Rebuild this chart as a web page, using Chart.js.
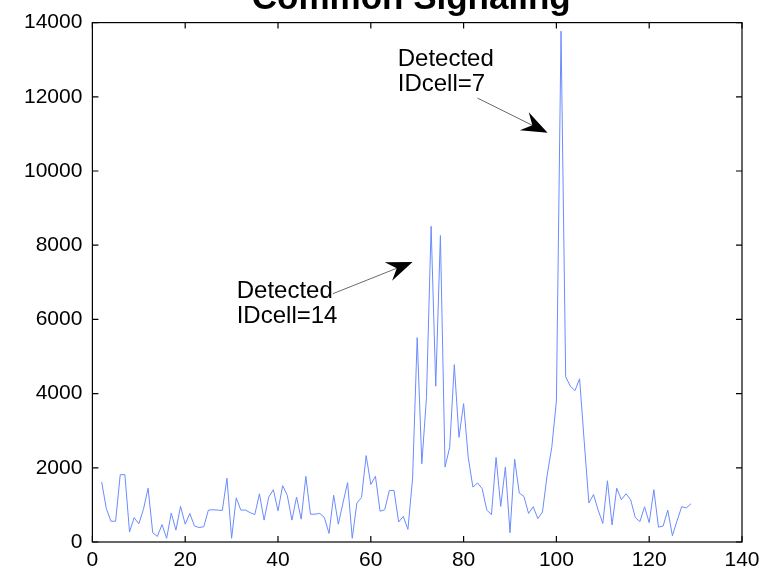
<!DOCTYPE html>
<html>
<head>
<meta charset="utf-8">
<script src="https://cdn.jsdelivr.net/npm/chart.js@4"></script>
<style>
  html, body { margin: 0; padding: 0; background: #fff; }
  canvas { display: block; }
</style>
</head>
<body>
<canvas id="chart" width="768" height="571"></canvas>
<script>
// ─── data ───────────────────────────────────────────────
const cellIndex = [
  2, 3, 4, 5, 6, 7, 8, 9, 10, 11, 12, 13, 14, 15, 16, 17, 18, 19, 20, 21,
  22, 23, 24, 25, 26, 27, 28, 29, 30, 31, 32, 33, 34, 35, 36, 37, 38, 39, 40, 41,
  42, 43, 44, 45, 46, 47, 48, 49, 50, 51, 52, 53, 54, 55, 56, 57, 58, 59, 60, 61,
  62, 63, 64, 65, 66, 67, 68, 69, 70, 71, 72, 73, 74, 75, 76, 77, 78, 79, 80, 81,
  82, 83, 84, 85, 86, 87, 88, 89, 90, 91, 92, 93, 94, 95, 96, 97, 98, 99, 100, 101,
  102, 103, 104, 105, 106, 107, 108, 109, 110, 111, 112, 113, 114, 115, 116, 117, 118, 119, 120, 121,
  122, 123, 124, 125, 126, 127, 128, 129
]
const signalPower = [
  1615, 900, 560, 560, 1815, 1815, 270, 655, 490, 880, 1450, 250, 150, 470, 100, 780, 320, 960, 480, 770,
  430, 390, 410, 860, 870, 860, 850, 1720, 100, 1190, 860, 860, 790, 740, 1300, 590, 1210, 1410, 840, 1520,
  1260, 590, 1210, 615, 1770, 750, 750, 770, 660, 230, 1260, 480, 1050, 1600, 100, 1050, 1200, 2330, 1550, 1770,
  830, 870, 1390, 1390, 540, 690, 340, 1700, 5510, 2110, 3900, 8510, 4200, 8260, 2020, 2550, 4780, 2820, 3730, 2280,
  1480, 1590, 1440, 860, 740, 2280, 960, 2020, 250, 2230, 1320, 1230, 770, 950, 630, 810, 1800, 2550, 3800, 13770,
  4450, 4200, 4080, 4400, 2700, 1050, 1280, 860, 500, 1650, 460, 1450, 1140, 1300, 1140, 660, 550, 950, 520, 1410,
  400, 430, 860, 170, 570, 950, 920, 1030
]
const xTicks = [0, 20, 40, 60, 80, 100, 120, 140]
const yTicks = [0, 2000, 4000, 6000, 8000, 10000, 12000, 14000]

const chartTitle = 'Common Signaling'
// annotations: text anchor + arrow (tail -> tip), in data units
const notes = [
  { lines: ['Detected', 'IDcell=7'],  textAt: [65.8, 12820], tail: [83.0, 11965], tip: [98.1, 11028] },
  { lines: ['Detected', 'IDcell=14'], textAt: [31.1, 6585],  tail: [51.8, 6692],  tip: [69.0, 7548] },
]

const FONT = "'Liberation Sans', Arial, Helvetica, sans-serif"

// ─── frame with inward ticks on all four sides ─────────
const framePlugin = {
  id: 'frame',
  afterDatasetsDraw(chart) {
    const { ctx, chartArea: a, scales } = chart
    const len = 6
    ctx.save()
    ctx.strokeStyle = '#000'
    ctx.lineWidth = 1.2
    ctx.strokeRect(a.left, a.top, a.right - a.left, a.bottom - a.top)
    ctx.beginPath()
    xTicks.forEach(v => {
      const px = scales.x.getPixelForValue(v)
      ctx.moveTo(px, a.bottom); ctx.lineTo(px, a.bottom - len)
      ctx.moveTo(px, a.top);    ctx.lineTo(px, a.top + len)
    })
    yTicks.forEach(v => {
      const py = scales.y.getPixelForValue(v)
      ctx.moveTo(a.left, py);  ctx.lineTo(a.left + len, py)
      ctx.moveTo(a.right, py); ctx.lineTo(a.right - len, py)
    })
    ctx.stroke()
    ctx.restore()
  }
}

// ─── title (clipped at top as in the original) + arrows ─
const notesPlugin = {
  id: 'notes',
  afterDraw(chart) {
    const { ctx, chartArea: a, scales } = chart
    const X = v => scales.x.getPixelForValue(v)
    const Y = v => scales.y.getPixelForValue(v)
    ctx.save()

    ctx.fillStyle = '#000'
    ctx.font = `bold 35px ${FONT}`
    ctx.textAlign = 'center'
    ctx.textBaseline = 'alphabetic'
    ctx.fillText(chartTitle, (a.left + a.right) / 2 - 6, 9)

    ctx.font = `24px ${FONT}`
    ctx.textAlign = 'left'
    notes.forEach(n => {
      const tx = X(n.textAt[0]), ty = Y(n.textAt[1])
      n.lines.forEach((l, i) => ctx.fillText(l, tx, ty + i * 25))

      const x0 = X(n.tail[0]), y0 = Y(n.tail[1])
      const x1 = X(n.tip[0]),  y1 = Y(n.tip[1])
      const ang = Math.atan2(y1 - y0, x1 - x0)
      ctx.strokeStyle = '#444'
      ctx.lineWidth = 0.8
      ctx.beginPath()
      ctx.moveTo(x0, y0)
      ctx.lineTo(x1 - 14 * Math.cos(ang), y1 - 14 * Math.sin(ang))
      ctx.stroke()

      // swept-back filled arrowhead
      ctx.translate(x1, y1)
      ctx.rotate(ang)
      ctx.beginPath()
      ctx.moveTo(0, 0)
      ctx.lineTo(-26, -10)
      ctx.lineTo(-17, 0)
      ctx.lineTo(-26, 10)
      ctx.closePath()
      ctx.fillStyle = '#000'
      ctx.fill()
      ctx.setTransform(1, 0, 0, 1, 0, 0)
    })
    ctx.restore()
  }
}

new Chart(document.getElementById('chart'), {
  type: 'line',
  data: {
    datasets: [{
      data: cellIndex.map((x, i) => ({ x, y: signalPower[i] })),
      borderColor: '#6b8bff',
      borderWidth: 1,
      pointRadius: 0,
      tension: 0,
    }]
  },
  options: {
    responsive: false,
    animation: false,
    layout: { padding: { top: 19, right: 26, left: 0, bottom: 0 } },
    plugins: { legend: { display: false }, tooltip: { enabled: false }, title: { display: false } },
    scales: {
      x: {
        type: 'linear', min: 0, max: 140,
        afterFit: s => { s.height = 29 },
        afterBuildTicks: s => { s.ticks = xTicks.map(v => ({ value: v })) },
        grid: { display: false, drawTicks: false },
        border: { display: false },
        ticks: { color: '#000', padding: 6, maxRotation: 0, font: { family: FONT, size: 21 },
                 callback: v => String(v) },
      },
      y: {
        min: 0, max: 14000,
        afterFit: s => { s.width = 92.4 },
        afterBuildTicks: s => { s.ticks = yTicks.map(v => ({ value: v })) },
        grid: { display: false, drawTicks: false },
        border: { display: false },
        ticks: { color: '#000', padding: 10, font: { family: FONT, size: 21 },
                 callback: v => String(v) },
      }
    }
  },
  plugins: [framePlugin, notesPlugin]
})
</script>
</body>
</html>
